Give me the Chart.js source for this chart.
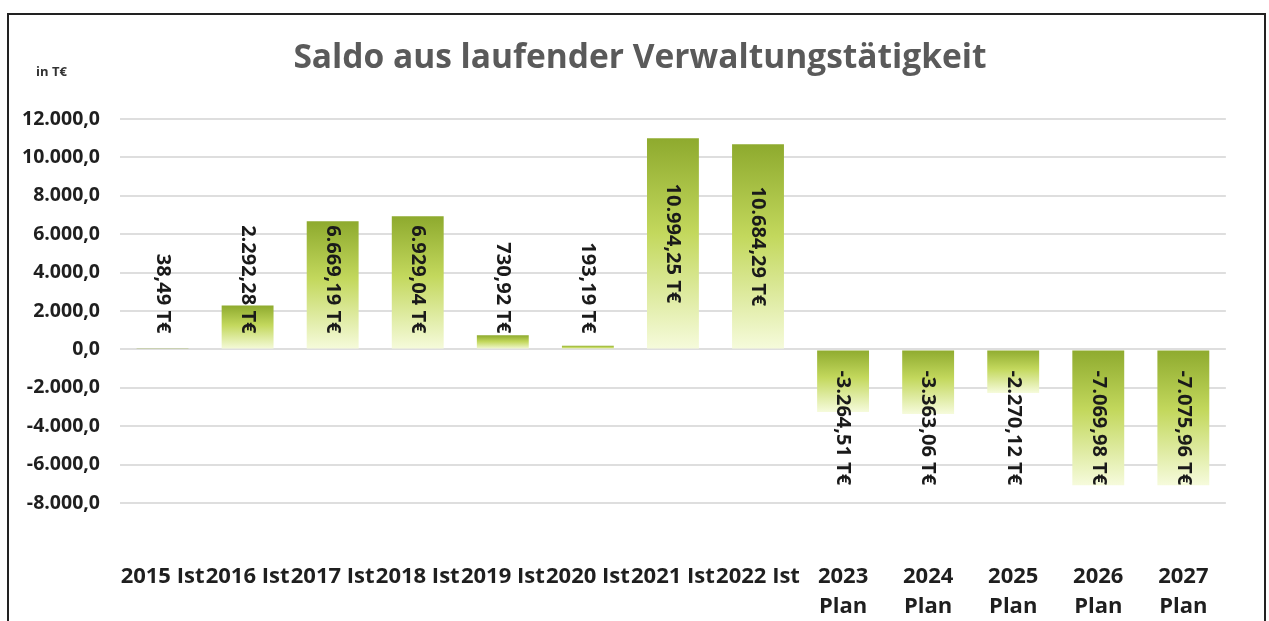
<!DOCTYPE html>
<html>
<head>
<meta charset="utf-8">
<script src="https://cdn.jsdelivr.net/npm/chart.js@4.4.1/dist/chart.umd.min.js"></script>
<style>
  html, body { margin: 0; padding: 0; background: #fff; }
  #wrap { width: 1269px; height: 621px; position: relative; }
</style>
</head>
<body>
<div id="wrap"><canvas id="saldo" width="1269" height="621"></canvas></div>
<script>
// Jahre / Ist- und Planwerte (in T€)
let jahre = ['2015','2016','2017','2018','2019','2020','2021','2022','2023','2024','2025','2026','2027']
let art = ['Ist','Ist','Ist','Ist','Ist','Ist','Ist','Ist','Plan','Plan','Plan','Plan','Plan']
let saldo = [38.49, 2292.28, 6669.19, 6929.04, 730.92, 193.19, 10994.25, 10684.29,
             -3264.51, -3363.06, -2270.12, -7069.98, -7075.96]
let yMin = -8000
let yMax = 12000
let yStep = 2000

const titel = 'Saldo aus laufender Verwaltungstätigkeit'
const einheit = 'in T€'
const schrift = "'Open Sans', 'Liberation Sans', sans-serif"

// Ist-Jahre in einer Zeile, Plan-Jahre zweizeilig
let beschriftung = jahre.map(function (j, i) {
  return art[i] == 'Plan' ? [j, art[i]] : j + ' ' + art[i]
})

// deutsche Zahlenformatierung, z.B. 10.994,25
function zahl(v, stellen) {
  let neg = v < 0
  let s = Math.abs(v).toFixed(stellen)
  let teile = s.split('.')
  let ganz = teile[0].replace(/\B(?=(\d{3})+(?!\d))/g, '.')
  let out = ganz + (stellen > 0 ? ',' + teile[1] : '')
  return (neg ? '-' : '') + out
}

// Verlauf je Säule: oben dunkel, unten hell
function verlauf(context) {
  const chart = context.chart
  const y = chart.scales.y
  if (!chart.chartArea || !y) return '#b5cc4f'
  const v = context.raw
  const p0 = y.getPixelForValue(0)
  const p1 = y.getPixelForValue(v)
  const top = Math.min(p0, p1)
  const bottom = Math.max(p0, p1)
  const g = chart.ctx.createLinearGradient(0, top, 0, bottom)
  g.addColorStop(0, '#8eaa2e')
  g.addColorStop(0.45, '#c3d85d')
  g.addColorStop(1, '#f6fbdc')
  return g
}

// Werte senkrecht in die Säulen schreiben
const wertLabels = {
  id: 'wertLabels',
  afterDatasetsDraw(chart) {
    const ctx = chart.ctx
    const meta = chart.getDatasetMeta(0)
    ctx.save()
    ctx.font = 'bold 20px ' + schrift
    ctx.fillStyle = '#1a1a1a'
    ctx.textBaseline = 'middle'
    ctx.textAlign = 'left'
    meta.data.forEach(function (bar, i) {
      const v = saldo[i]
      const text = zahl(v, 2) + ' T€'
      const len = ctx.measureText(text).width
      const lang = Math.abs(bar.base - bar.y)
      let start
      if (lang >= len + 36) {
        start = (bar.y + bar.base) / 2 - len / 2
      } else if (v >= 0) {
        start = bar.base - 15 - len
      } else {
        start = bar.base + 20
      }
      ctx.save()
      ctx.translate(bar.x, start)
      ctx.rotate(Math.PI / 2)
      ctx.fillText(text, 0, 0)
      ctx.restore()
    })
    ctx.restore()
  }
}

// Rahmen, Überschrift und Einheit
const rahmen = {
  id: 'rahmen',
  afterDraw(chart) {
    const ctx = chart.ctx
    ctx.save()
    ctx.strokeStyle = '#222'
    ctx.lineWidth = 2
    ctx.beginPath()
    ctx.moveTo(8, 640)
    ctx.lineTo(8, 14)
    ctx.lineTo(1265, 14)
    ctx.lineTo(1265, 640)
    ctx.stroke()

    ctx.font = 'bold 33.5px ' + schrift
    ctx.fillStyle = '#5a5a5a'
    ctx.textAlign = 'center'
    ctx.textBaseline = 'alphabetic'
    ctx.fillText(titel, 640, 68)

    ctx.font = 'bold 13px ' + schrift
    ctx.fillStyle = '#333'
    ctx.textAlign = 'left'
    ctx.textBaseline = 'middle'
    ctx.fillText(einheit, 36, 72)
    ctx.restore()
  }
}

const data = {
  labels: beschriftung,
  datasets: [{
    label: 'Saldo',
    data: saldo,
    backgroundColor: verlauf,
    borderWidth: 0,
    barPercentage: 0.61,
    categoryPercentage: 1
  }]
}

const config = {
  type: 'bar',
  data: data,
  plugins: [wertLabels, rahmen],
  options: {
    responsive: false,
    animation: false,
    layout: { padding: { left: 0, right: 39, top: 119, bottom: 0 } },
    plugins: {
      legend: { display: false },
      tooltip: { enabled: false },
      title: { display: false }
    },
    scales: {
      x: {
        grid: { display: false, drawTicks: false },
        border: { display: false },
        ticks: {
          color: '#1f1f1f',
          font: { family: schrift, size: 22, weight: 'bold', lineHeight: 1.36 },
          padding: 59,
          autoSkip: false,
          minRotation: 0,
          maxRotation: 0
        },
        afterFit: function (s) { s.height = 118 }
      },
      y: {
        min: yMin,
        max: yMax,
        grid: { color: '#dedede', lineWidth: 2, drawTicks: false },
        border: { display: false },
        ticks: {
          stepSize: yStep,
          color: '#1f1f1f',
          font: { family: schrift, size: 19.5, weight: 'bold' },
          padding: 20,
          callback: function (v) { return zahl(v, 1) }
        },
        afterFit: function (s) { s.width = 120 }
      }
    }
  }
}

const myChart = new Chart(document.getElementById('saldo'), config)
</script>
</body>
</html>
